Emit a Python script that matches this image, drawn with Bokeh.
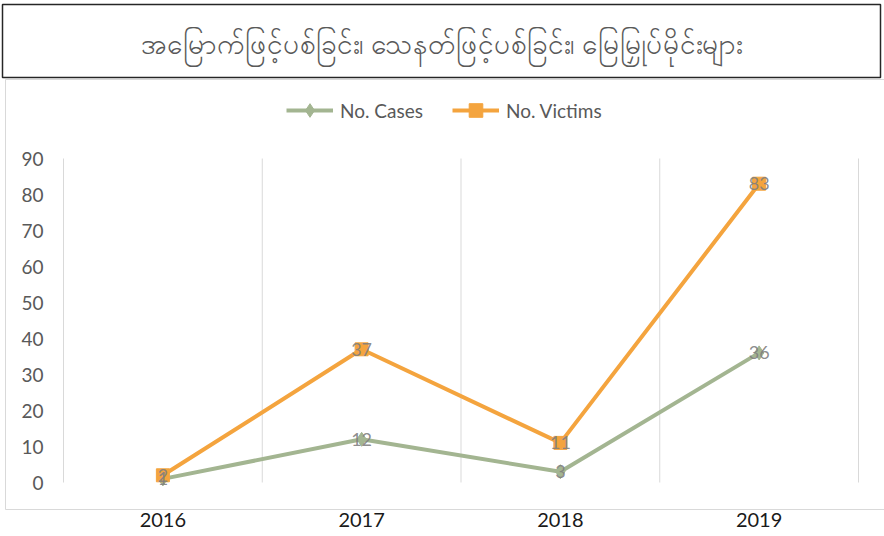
from bokeh.plotting import figure
from bokeh.models import (FixedTicker, Legend, LegendItem, Label, BoxAnnotation, Range1d)
from bokeh.core.properties import value
from bokeh.embed import file_html
from bokeh.resources import INLINE

# ---- data ----
title_text = "အမြောက်ဖြင့်ပစ်ခြင်း၊ သေနတ်ဖြင့်ပစ်ခြင်း၊ မြေမြှုပ်မိုင်းများ"
years = ["2016", "2017", "2018", "2019"]
cases = [1, 12, 3, 36]
victims = [2, 37, 11, 83]
y_ticks = [0, 10, 20, 30, 40, 50, 60, 70, 80, 90]
series_names = ["No. Cases", "No. Victims"]

GREEN = "#A3B591"
ORANGE = "#F4A43E"
FONT = "Lato"

W, H = 884, 536
# layout of the plotting area on the canvas (pixels)
FL, FR, FT, F0, FB = 63, 858, 158, 482, 509   # left, right, y=90, y=0, border bottom
xs = list(range(len(years)))
n = len(years)
ymax = y_ticks[-1]
xpx = (FR - FL) / n                 # px per category
ypx = (F0 - FT) / ymax              # px per unit
x0 = -0.5 - FL / xpx
x1 = n - 0.5 + (W - FR) / xpx
y1 = ymax + FT / ypx
y0 = -(H - F0) / ypx
y_border = -(FB - F0) / ypx

p = figure(width=W, height=H, output_backend="svg", toolbar_location=None,
           x_range=Range1d(x0, x1), y_range=Range1d(y0, y1), min_border=0)
p.outline_line_color = None
p.background_fill_color = "white"

# axes inside the canvas-wide frame
p.yaxis.fixed_location = -0.5
p.yaxis.ticker = FixedTicker(ticks=y_ticks)
p.yaxis.axis_line_color = None
p.yaxis.major_tick_line_color = None
p.yaxis.minor_tick_line_color = None
p.yaxis.major_tick_out = 0
p.yaxis.major_tick_in = 0
p.yaxis.major_label_text_color = "#595959"
p.yaxis.major_label_text_font = FONT
p.yaxis.major_label_text_font_size = "19px"
p.yaxis.major_label_standoff = 20

p.xaxis.fixed_location = y_border
p.xaxis.ticker = FixedTicker(ticks=xs)
p.xaxis.major_label_overrides = {i: y for i, y in enumerate(years)}
p.xaxis.axis_line_color = None
p.xaxis.major_tick_line_color = None
p.xaxis.minor_tick_line_color = None
p.xaxis.major_tick_out = 0
p.xaxis.major_tick_in = 0
p.xaxis.major_label_text_color = "#1A1A1A"
p.xaxis.major_label_text_font = FONT
p.xaxis.major_label_text_font_size = "20px"
p.xaxis.major_label_standoff = 3

# vertical category-boundary grid lines, limited to the value range
p.xgrid.visible = False
p.ygrid.visible = False
bounds = [i - 0.5 for i in range(n + 1)]
p.segment(x0=bounds, y0=[y_ticks[0]] * len(bounds), x1=bounds,
          y1=[ymax] * len(bounds), line_color="#D9D9D9", line_width=1)

# chart area light border and title box
p.add_layout(BoxAnnotation(left=5, right=W + 10, top=79, bottom=FB,
                           left_units="canvas", right_units="canvas",
                           top_units="canvas", bottom_units="canvas",
                           fill_alpha=0, line_color="#D9D9D9", line_alpha=1,
                           line_width=1))
p.add_layout(BoxAnnotation(left=2, right=880, top=4, bottom=77,
                           left_units="canvas", right_units="canvas",
                           top_units="canvas", bottom_units="canvas",
                           fill_color="white", fill_alpha=1,
                           line_color="#262626", line_alpha=1, line_width=1.5))
p.add_layout(Label(x=W / 2 - 1, y=42, x_units="canvas", y_units="canvas",
                   text=title_text, text_align="center", text_baseline="middle",
                   text_color="#595959", text_font_size="28px",
                   text_font="Noto Sans"))

# series
l1 = p.line(xs, cases, line_color=GREEN, line_width=4)
m1 = p.scatter(xs, cases, marker="diamond", size=14, fill_color=GREEN, line_color=GREEN)
l2 = p.line(xs, victims, line_color=ORANGE, line_width=4)
m2 = p.scatter(xs, victims, marker="square", size=13, fill_color=ORANGE, line_color=ORANGE)

for vals in (cases, victims):
    p.text(xs, vals, text=[str(v) for v in vals], text_align="center",
           text_baseline="middle", text_color="#7F7F7F", text_alpha=0.9,
           text_font=value(FONT), text_font_size="18px")

legend = Legend(items=[LegendItem(label=series_names[0], renderers=[l1, m1]),
                       LegendItem(label=series_names[1], renderers=[l2, m2])],
                orientation="horizontal", location=(286, H - 127),
                glyph_width=47, glyph_height=34, label_height=34,
                label_standoff=7, spacing=29, padding=0, margin=0,
                border_line_color=None, background_fill_alpha=0,
                label_text_font=FONT, label_text_font_size="19px",
                label_text_color="#595959")
p.add_layout(legend, "center")

open("out.html", "w").write(file_html(p, INLINE))
